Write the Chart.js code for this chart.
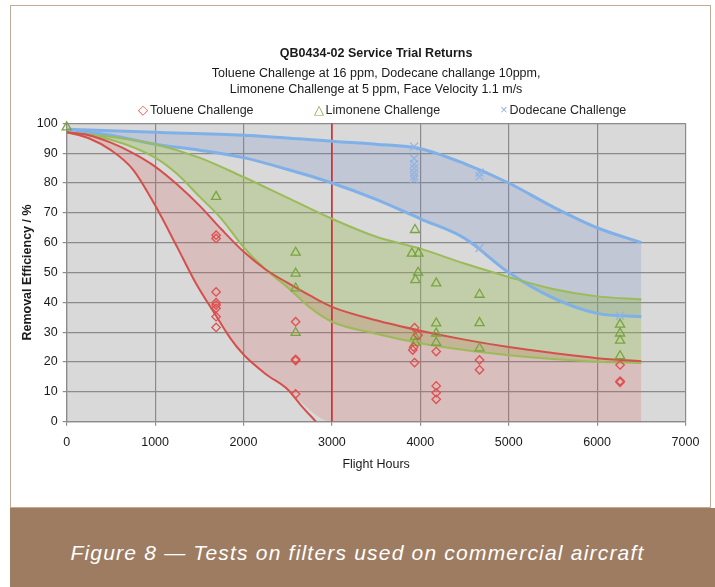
<!DOCTYPE html>
<html>
<head>
<meta charset="utf-8">
<script src="https://cdn.jsdelivr.net/npm/chart.js@4/dist/chart.umd.min.js"></script>
<style>
  html, body { margin: 0; padding: 0; background: #fff; }
  body { width: 715px; height: 587px; position: relative; overflow: hidden; font-family: "Liberation Sans", Arial, sans-serif; }
  #card { position: absolute; left: 10px; top: 5px; width: 701px; height: 503px; box-sizing: border-box; border: 1px solid #c4ab96; background: #fff; }
  #chart { display: block; }
  #legend { position: absolute; left: 127px; top: 96px; display: flex; gap: 60px; font-size: 12.5px; color: #262626; white-space: nowrap; line-height: 16px; }
  #legend span b { font-weight: normal; margin-right: 2px; }
  #caption { position: absolute; left: 10px; top: 508px; width: 705px; height: 79px; background: #9e7c62; color: #fff; font-style: italic; font-size: 21px; letter-spacing: 1.2px; text-align: center; line-height: 24px; padding: 33px 10px 0 0; box-sizing: border-box; }
</style>
</head>
<body>
<div id="card">
  <canvas id="chart" width="699" height="501"></canvas>
  <div id="legend">
    <span><b style="color:#e04f4f">&#9671;</b>Toluene Challenge</span>
    <span><b style="color:#79a53c">&#9651;</b>Limonene Challenge</span>
    <span><b style="color:#93b3e0">&#215;</b>Dodecane Challenge</span>
  </div>
</div>
<div id="caption">Figure 8 — Tests on filters used on commercial aircraft</div>

<script>
// measured samples [flight hours, removal %]
const toluenePoints = [
  [1690, 62.5], [1690, 61.4], [1690, 43.5], [1690, 39.9], [1690, 39.1], [1690, 38.0], [1690, 35.2], [1690, 31.6],
  [2590, 33.5], [2590, 20.9], [2590, 20.5], [2590, 9.3],
  [3935, 31.5], [3975, 29.0], [3925, 25.0], [3915, 24.0], [3935, 19.8],
  [4180, 23.5], [4180, 12.0], [4180, 9.7], [4180, 7.5],
  [4670, 20.7], [4670, 17.4],
  [6260, 19.0], [6260, 13.6], [6260, 13.2]
];
const limonenePoints = [
  [0, 98.7], [1690, 75.4],
  [2590, 56.7], [2590, 49.7], [2590, 44.7], [2590, 29.8],
  [3940, 64.3], [3905, 56.4], [3980, 56.4], [3975, 50.0], [3945, 47.5], [3940, 28.5], [3945, 26.5],
  [4180, 46.4], [4180, 33.0], [4180, 29.6], [4180, 26.5],
  [4670, 42.6], [4670, 33.1], [4670, 24.6],
  [6260, 32.6], [6260, 29.6], [6260, 27.2], [6260, 22.0]
];
const dodecanePoints = [
  [3930, 92.2], [3930, 88.2], [3930, 86.3], [3930, 85.0], [3930, 83.5], [3930, 82.2], [3930, 81.2],
  [4670, 83.5], [4670, 82.2], [4670, 58.2],
  [6260, 35.5]
];

// envelope curves
const tolueneUpper = [
  [0, 97], [250, 96], [500, 93.5], [750, 90], [1000, 85.5], [1250, 79.5], [1500, 72.5], [1750, 64.5],
  [2000, 57], [2250, 51], [2500, 46.5], [2750, 42.3], [3000, 38.5], [3500, 34], [4000, 30.5],
  [4500, 27.5], [5000, 25], [5500, 23], [6000, 21.3], [6500, 20.3]
];
const tolueneLower = [
  [0, 97], [250, 95], [500, 91], [750, 84.5], [1000, 72.5], [1250, 58.5], [1450, 47], [1700, 35],
  [1850, 28], [2000, 22.5], [2250, 16], [2500, 10.8], [2650, 5.5], [2820, 0]
];
// lower edge of the shaded toluene band (runs out along the axis)
const tolueneShadeLower = [
  [0, 97], [250, 95], [500, 91], [750, 84.5], [1000, 72.5], [1250, 58.5], [1450, 47], [1700, 35],
  [1850, 28], [2000, 22.5], [2250, 16], [2500, 10.8], [2560, 9], [3000, 0], [6500, 0]
];
const limoneneUpper = [
  [0, 97], [500, 95.5], [1000, 93], [1500, 88.5], [2000, 82], [2500, 75], [3000, 68], [3500, 62],
  [4000, 58], [4500, 53], [5000, 48.5], [5500, 44.5], [6000, 42], [6500, 41]
];
const limoneneLower = [
  [0, 97], [500, 94.5], [1000, 88.5], [1250, 83], [1500, 75.5], [1750, 68], [2000, 58.5], [2250, 51],
  [2500, 45], [2750, 38.3], [3000, 33.5], [3500, 29.5], [4000, 26.3], [4500, 24], [5000, 22.3],
  [5500, 21], [6000, 20.1], [6500, 19.7]
];
const dodecaneUpper = [
  [0, 98], [1000, 97], [2000, 96], [3000, 94], [3500, 93], [4000, 91.5], [4500, 86.5], [5000, 80],
  [5500, 72], [6000, 65], [6500, 60]
];
const dodecaneLower = [
  [0, 98], [500, 96], [1000, 93], [1500, 91], [2000, 88.5], [2500, 84.5], [3000, 80], [3500, 74.5],
  [4000, 68], [4500, 61.5], [5000, 50], [5500, 41.5], [6000, 36.3], [6500, 35.2]
];
const markerLine = [[3000, 0], [3000, 100]];

const xTicks = { min: 0, max: 7000, step: 1000 };
const yTicks = { min: 0, max: 100, step: 10 };

const toXY = (pts) => pts.map(([x, y]) => ({ x, y }));

const gridColor = "#8b8b8b";

const plotBackground = {
  id: "plotBackground",
  beforeDraw(chart) {
    const { ctx, chartArea: a } = chart;
    ctx.save();
    ctx.fillStyle = "#d9d9d9";
    ctx.fillRect(a.left, a.top, a.right - a.left, a.bottom - a.top);
    ctx.restore();
  }
};

function points(label, pts, style, color, radius) {
  return {
    label,
    data: toXY(pts),
    showLine: false,
    clip: false,
    pointStyle: style,
    pointRadius: radius,
    pointHoverRadius: radius,
    pointBorderColor: color,
    pointBackgroundColor: "transparent",
    pointBorderWidth: 1.3,
    borderColor: color,
    backgroundColor: "transparent"
  };
}

function curve(label, pts, color, width, fill, fillColor) {
  return {
    label,
    data: toXY(pts),
    showLine: true,
    borderColor: color,
    borderWidth: width,
    pointRadius: 0,
    pointHoverRadius: 0,
    cubicInterpolationMode: "monotone",
    fill: fill,
    backgroundColor: fillColor || "transparent"
  };
}

const ctx = document.getElementById("chart").getContext("2d");
const chart = new Chart(ctx, {
  type: "line",
  data: {
    datasets: [
      points("Toluene Challenge", toluenePoints, "rectRot", "#e04f4f", 4.2),                      // 0
      points("Limonene Challenge", limonenePoints, "triangle", "#79a53c", 5.3),                   // 1
      points("Dodecane Challenge", dodecanePoints, "crossRot", "#93b3e0", 5.6),                   // 2
      curve("Toluene upper", tolueneUpper, "#d4504c", 2, 5, "rgba(217,83,79,0.2)"),              // 3
      curve("Toluene lower", tolueneLower, "#d4504c", 2, false),                                 // 4
      curve("Toluene shade", tolueneShadeLower, "transparent", 0, false),                        // 5
      curve("Limonene upper", limoneneUpper, "#9bbb59", 2, 7, "rgba(150,185,80,0.35)"),          // 6
      curve("Limonene lower", limoneneLower, "#9bbb59", 2, false),                               // 7
      curve("Dodecane upper", dodecaneUpper, "#80b0e8", 3, 9, "rgba(100,130,200,0.2)"),          // 8
      curve("Dodecane lower", dodecaneLower, "#80b0e8", 3, false),                               // 9
      { label: "3000 h", data: toXY(markerLine), showLine: true, borderColor: "#cc3030",
        borderWidth: 1.6, pointRadius: 0, fill: false }                                          // 10
    ]
  },
  options: {
    responsive: false,
    animation: false,
    events: [],
    font: { family: "'Liberation Sans', Arial, sans-serif" },
    layout: { padding: { top: 40.5, left: 0, right: 24.5, bottom: 0 } },
    scales: {
      x: {
        type: "linear",
        min: xTicks.min,
        max: xTicks.max,
        afterFit: (scale) => { scale.height = 85.3; },
        ticks: { stepSize: xTicks.step, padding: 9.5, color: "#1a1a1a", font: { size: 12.5 }, format: { useGrouping: false } },
        grid: { color: gridColor, lineWidth: 1.2, tickLength: 4 },
        border: { color: gridColor, width: 1.2 },
        title: { display: true, text: "Flight Hours", color: "#1a1a1a", font: { size: 12.5 }, padding: { top: 4, bottom: 35 } }
      },
      y: {
        min: yTicks.min,
        max: yTicks.max,
        afterFit: (scale) => { scale.width = 55.7; },
        ticks: { stepSize: yTicks.step, padding: 5, color: "#1a1a1a", font: { size: 12.5 } },
        grid: { color: gridColor, lineWidth: 1.2, tickLength: 4 },
        border: { color: gridColor, width: 1.2 },
        title: { display: true, text: "Removal Efficiency / %", color: "#1a1a1a", font: { size: 12.5, weight: "bold" }, padding: { top: 8.8, bottom: 0 } }
      }
    },
    plugins: {
      filler: { drawTime: "beforeDatasetsDraw" },
      legend: { display: false },
      tooltip: { enabled: false },
      title: {
        display: true,
        fullSize: false,
        text: "QB0434-02 Service Trial Returns",
        color: "#1a1a1a",
        font: { size: 12.5, weight: "bold" },
        padding: { top: 0, bottom: 0 }
      },
      subtitle: {
        display: true,
        fullSize: false,
        text: [
          "Toluene Challenge at 16 ppm, Dodecane challange 10ppm,",
          "Limonene Challenge at 5 ppm, Face Velocity 1.1 m/s"
        ],
        color: "#1a1a1a",
        font: { size: 12.5, lineHeight: 1.28 },
        padding: { top: 4, bottom: 25.8 }
      }
    }
  },
  plugins: [plotBackground]
});
</script>
</body>
</html>
